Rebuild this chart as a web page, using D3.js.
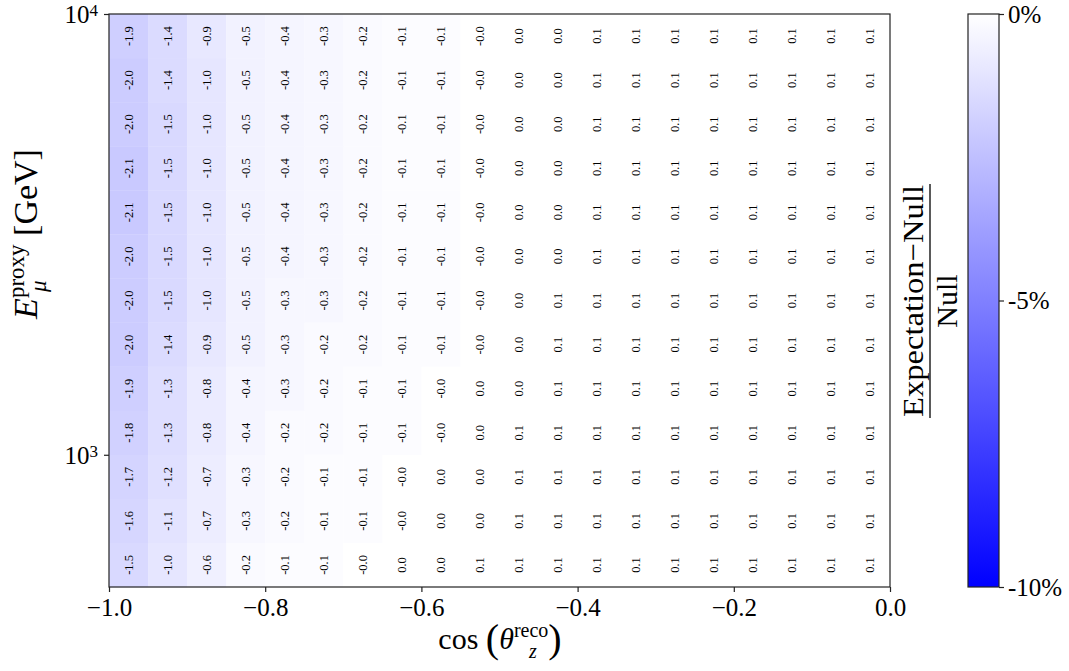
<!DOCTYPE html>
<html>
<head>
<meta charset="utf-8">
<script src="https://cdn.jsdelivr.net/npm/d3@7"></script>
<style>
  html, body { margin: 0; padding: 0; background: #fff; }
  svg { display: block; }
  text { font-family: "Liberation Serif", "DejaVu Serif", serif; fill: #000; }
</style>
</head>
<body>
<svg id="chart" width="1069" height="671"></svg>
<script>
// Bin edges of the histogram
const cosEdges = [-1.00, -0.95, -0.90, -0.85, -0.80, -0.75, -0.70, -0.65, -0.60, -0.55, -0.50,
                  -0.45, -0.40, -0.35, -0.30, -0.25, -0.20, -0.15, -0.10, -0.05, 0.00];
// Energy edges in GeV, 0.1 decade wide, from 10^2.7 to 10^4
const energyEdges = [501.2, 631.0, 794.3, 1000.0, 1258.9, 1584.9, 1995.3, 2511.9,
                     3162.3, 3981.1, 5011.9, 6309.6, 7943.3, 10000.0];

// Relative difference (percent), one row per energy bin, highest energy first
const rowE9  = [-1.9, -1.4, -0.9, -0.5, -0.4, -0.3, -0.2, -0.1, -0.1, -0.0, 0.0, 0.0, 0.1, 0.1, 0.1, 0.1, 0.1, 0.1, 0.1, 0.1];
const rowE8  = [-2.0, -1.4, -1.0, -0.5, -0.4, -0.3, -0.2, -0.1, -0.1, -0.0, 0.0, 0.0, 0.1, 0.1, 0.1, 0.1, 0.1, 0.1, 0.1, 0.1];
const rowE7  = [-2.0, -1.5, -1.0, -0.5, -0.4, -0.3, -0.2, -0.1, -0.1, -0.0, 0.0, 0.0, 0.1, 0.1, 0.1, 0.1, 0.1, 0.1, 0.1, 0.1];
const rowE6  = [-2.1, -1.5, -1.0, -0.5, -0.4, -0.3, -0.2, -0.1, -0.1, -0.0, 0.0, 0.0, 0.1, 0.1, 0.1, 0.1, 0.1, 0.1, 0.1, 0.1];
const rowE5  = [-2.1, -1.5, -1.0, -0.5, -0.4, -0.3, -0.2, -0.1, -0.1, -0.0, 0.0, 0.0, 0.1, 0.1, 0.1, 0.1, 0.1, 0.1, 0.1, 0.1];
const rowE4  = [-2.0, -1.5, -1.0, -0.5, -0.4, -0.3, -0.2, -0.1, -0.1, -0.0, 0.0, 0.0, 0.1, 0.1, 0.1, 0.1, 0.1, 0.1, 0.1, 0.1];
const rowE3  = [-2.0, -1.5, -1.0, -0.5, -0.3, -0.3, -0.2, -0.1, -0.1, -0.0, 0.0, 0.1, 0.1, 0.1, 0.1, 0.1, 0.1, 0.1, 0.1, 0.1];
const rowE2  = [-2.0, -1.4, -0.9, -0.5, -0.3, -0.2, -0.2, -0.1, -0.1, -0.0, 0.0, 0.1, 0.1, 0.1, 0.1, 0.1, 0.1, 0.1, 0.1, 0.1];
const rowE1  = [-1.9, -1.3, -0.8, -0.4, -0.3, -0.2, -0.1, -0.1, -0.0, 0.0, 0.0, 0.1, 0.1, 0.1, 0.1, 0.1, 0.1, 0.1, 0.1, 0.1];
const rowE0  = [-1.8, -1.3, -0.8, -0.4, -0.2, -0.2, -0.1, -0.1, -0.0, 0.0, 0.1, 0.1, 0.1, 0.1, 0.1, 0.1, 0.1, 0.1, 0.1, 0.1];
const rowEm1 = [-1.7, -1.2, -0.7, -0.3, -0.2, -0.1, -0.1, -0.0, 0.0, 0.0, 0.1, 0.1, 0.1, 0.1, 0.1, 0.1, 0.1, 0.1, 0.1, 0.1];
const rowEm2 = [-1.6, -1.1, -0.7, -0.3, -0.2, -0.1, -0.1, -0.0, 0.0, 0.0, 0.1, 0.1, 0.1, 0.1, 0.1, 0.1, 0.1, 0.1, 0.1, 0.1];
const rowEm3 = [-1.5, -1.0, -0.6, -0.2, -0.1, -0.1, -0.0, 0.0, 0.0, 0.1, 0.1, 0.1, 0.1, 0.1, 0.1, 0.1, 0.1, 0.1, 0.1, 0.1];
const rowsTopDown = [rowE9, rowE8, rowE7, rowE6, rowE5, rowE4, rowE3, rowE2, rowE1, rowE0, rowEm1, rowEm2, rowEm3];

const xTicks = [-1.0, -0.8, -0.6, -0.4, -0.2, 0.0];
const yTicks = [1000, 10000];
const yTickExp = ["3", "4"];
const cbTicks = [0, -5, -10];
const cbTickLabels = ["0%", "-5%", "-10%"];
const cbDomain = [-10, 0];

const svg = d3.select("#chart");
const L = 109, R = 890, T = 14, B = 587;

const x = d3.scaleLinear().domain([-1, 0]).range([L, R]);
const y = d3.scaleLog().domain([energyEdges[0], energyEdges[energyEdges.length - 1]]).range([B, T]);
const color = d3.scaleLinear().domain(cbDomain).range(["#0000ff", "#ffffff"]).clamp(true);

// Flatten the matrix into cells with their bin edges
const nRows = rowsTopDown.length;
const cells = [];
rowsTopDown.forEach((row, r) => {
  const ei = nRows - 1 - r; // energy bin index (0 = lowest)
  row.forEach((v, c) => {
    cells.push({ v, x0: cosEdges[c], x1: cosEdges[c + 1], e0: energyEdges[ei], e1: energyEdges[ei + 1] });
  });
});

// Negative zero keeps its sign, as in "-0.0"
const fmtCell = v => (v < 0 || Object.is(v, -0)) ? "-" + Math.abs(v).toFixed(1) : v.toFixed(1);

const g = svg.append("g");
g.selectAll("rect.cell").data(cells).join("rect")
  .attr("class", "cell")
  .attr("x", d => x(d.x0))
  .attr("y", d => y(d.e1))
  .attr("width", d => x(d.x1) - x(d.x0) + 0.3)
  .attr("height", d => y(d.e0) - y(d.e1) + 0.3)
  .attr("fill", d => color(d.v));

g.selectAll("text.val").data(cells).join("text")
  .attr("class", "val")
  .attr("transform", d => {
    const cx = (x(d.x0) + x(d.x1)) / 2;
    const cy = (y(d.e0) + y(d.e1)) / 2;
    return `translate(${cx},${cy}) rotate(-90)`;
  })
  .attr("text-anchor", "middle")
  .attr("dominant-baseline", "central")
  .attr("font-size", 12.5)
  .text(d => fmtCell(d.v));

// Frame
svg.append("rect").attr("x", L).attr("y", T).attr("width", R - L).attr("height", B - T)
  .attr("fill", "none").attr("stroke", "#222").attr("stroke-width", 1.2);

// X axis
const xAxis = svg.append("g").attr("transform", `translate(0,${B})`)
  .call(d3.axisBottom(x).tickValues(xTicks).tickSize(5).tickPadding(6).tickFormat(d3.format(".1f")));
xAxis.select(".domain").remove();
xAxis.selectAll(".tick line").attr("stroke", "#222").attr("stroke-width", 1.2);
xAxis.selectAll(".tick text").attr("font-size", 25).attr("font-family", "Liberation Serif").attr("fill", "#000");

// Y axis (log, decade ticks)
const yAxis = svg.append("g").attr("transform", `translate(${L},0)`)
  .call(d3.axisLeft(y).tickValues(yTicks).tickSize(5).tickPadding(6).tickFormat(() => ""));
yAxis.select(".domain").remove();
yAxis.selectAll(".tick line").attr("stroke", "#222").attr("stroke-width", 1.2);
yAxis.selectAll(".tick text").each(function(d, i) {
  const t = d3.select(this).attr("font-size", 25).attr("font-family", "Liberation Serif")
    .attr("fill", "#000").attr("dy", "0.34em");
  t.append("tspan").text("10");
  t.append("tspan").attr("font-size", 17).attr("dy", "-0.42em").text(yTickExp[i]);
});

// X label: cos (θ_z^reco)
const xl = svg.append("g").attr("transform", "translate(500,649)");
const xlText = xl.append("text").attr("text-anchor", "middle").attr("font-size", 30);
xlText.append("tspan").text("cos ");
xlText.append("tspan").attr("font-size", 40).attr("dy", 3).text("(");
xlText.append("tspan").attr("font-style", "italic").attr("dy", -3).text("θ");
xlText.append("tspan").attr("font-size", 20).attr("dy", -12).text("reco");
xlText.append("tspan").attr("font-size", 40).attr("dy", 15).text(")");
// subscript z placed under the superscript
xl.append("text").attr("x", 29).attr("y", 9).attr("font-size", 20).attr("font-style", "italic").text("z");

// Y label: E_μ^proxy [GeV]
const yl = svg.append("g").attr("transform", "translate(37,234) rotate(-90)");
const ylText = yl.append("text").attr("text-anchor", "middle").attr("font-size", 34);
ylText.append("tspan").attr("font-style", "italic").text("E");
ylText.append("tspan").attr("font-size", 23).attr("dy", -13).text("proxy");
ylText.append("tspan").attr("dy", 13).text(" [GeV]");
yl.append("text").attr("x", -58).attr("y", 9).attr("font-size", 23).attr("font-style", "italic").text("μ");

// Colorbar
const cbX = 968, cbW = 31;
const cy = d3.scaleLinear().domain(cbDomain).range([B, T]);
const defs = svg.append("defs");
const grad = defs.append("linearGradient").attr("id", "cbgrad")
  .attr("x1", 0).attr("y1", 1).attr("x2", 0).attr("y2", 0);
d3.range(0, 1.0001, 0.1).forEach(t => {
  const v = cbDomain[0] + t * (cbDomain[1] - cbDomain[0]);
  grad.append("stop").attr("offset", t).attr("stop-color", color(v));
});
svg.append("rect").attr("x", cbX).attr("y", T).attr("width", cbW).attr("height", B - T)
  .attr("fill", "url(#cbgrad)").attr("stroke", "#222").attr("stroke-width", 1.2);
const cbAxis = svg.append("g").attr("transform", `translate(${cbX + cbW},0)`)
  .call(d3.axisRight(cy).tickValues(cbTicks).tickSize(5).tickPadding(4)
    .tickFormat((d, i) => cbTickLabels[i]));
cbAxis.select(".domain").remove();
cbAxis.selectAll(".tick line").attr("stroke", "#222").attr("stroke-width", 1.2);
cbAxis.selectAll(".tick text").attr("font-size", 25).attr("font-family", "Liberation Serif").attr("fill", "#000");

// Colorbar label: (Expectation − Null) / Null
const cl = svg.append("g").attr("transform", "translate(930,301) rotate(-90)");
cl.append("text").attr("text-anchor", "middle").attr("y", -7).attr("font-size", 30)
  .attr("textLength", 232).attr("lengthAdjust", "spacingAndGlyphs")
  .text("Expectation\u2212Null");
cl.append("line").attr("x1", -117).attr("x2", 117).attr("y1", 0).attr("y2", 0)
  .attr("stroke", "#000").attr("stroke-width", 1.3);
cl.append("text").attr("text-anchor", "middle").attr("y", 27).attr("font-size", 30).text("Null");
</script>
</body>
</html>
